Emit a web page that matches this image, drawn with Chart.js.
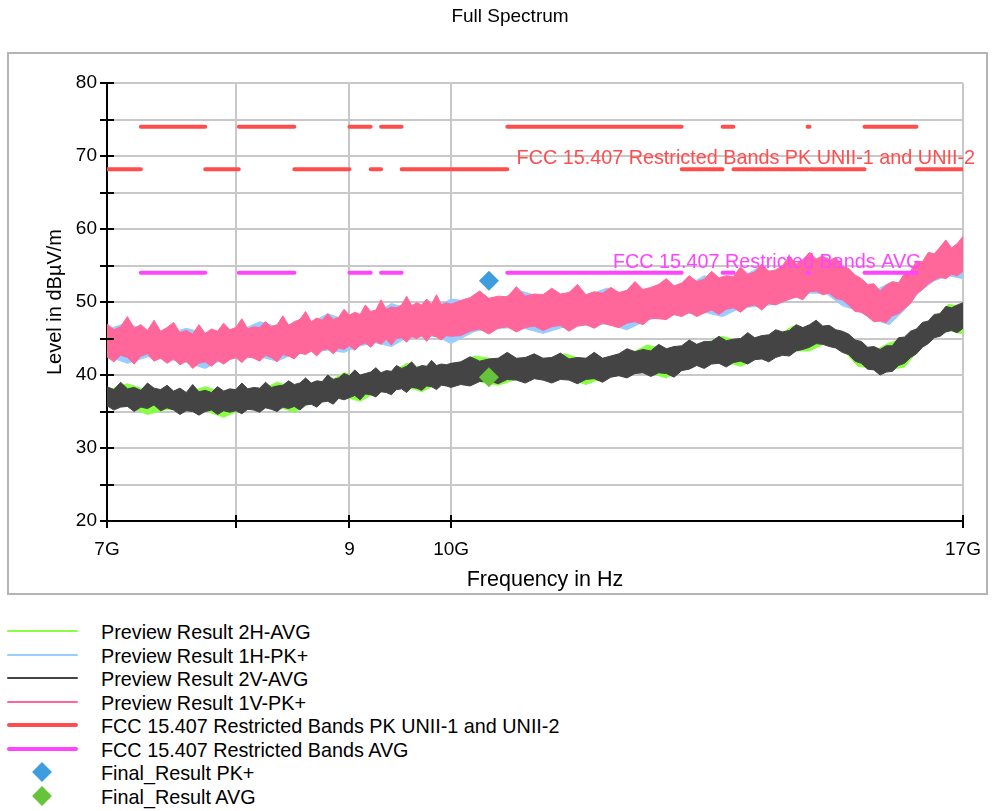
<!DOCTYPE html>
<html lang="en">
<head>
  <meta charset="UTF-8">
  <title>Full Spectrum</title>
  <script src="https://cdn.jsdelivr.net/npm/chart.js"></script>
  <style>
    body { margin: 0; background: #fff; font-family: "Liberation Sans", Arial, sans-serif; }
    #wrap { position: relative; width: 992px; height: 811px; overflow: hidden; }
    #chart { position: absolute; left: 0; top: 0; }
    .row { position: absolute; left: 0; width: 760px; height: 24px; }
    .row .sample { position: absolute; left: 7px; width: 71px; }
    .row .diamond { position: absolute; left: 35px; top: 5px; width: 14px; height: 14px; transform: rotate(45deg); }
    .row .label { position: absolute; left: 101px; top: 1px; line-height: 24px; font-size: 19.8px; color: #000; white-space: nowrap; }
  </style>
</head>
<body>
  <div id="wrap">
    <canvas id="chart" width="992" height="600"></canvas>
    <div id="legend"></div>
  </div>

  <script>
    // sweep grid (GHz) of the preview scans
    const freqs = [
      7.00, 7.05, 7.10, 7.15, 7.20, 7.25, 7.30, 7.35, 7.40, 7.45,
      7.50, 7.55, 7.60, 7.65, 7.70, 7.75, 7.80, 7.85, 7.90, 7.95,
      8.00, 8.05, 8.10, 8.15, 8.20, 8.25, 8.30, 8.35, 8.40, 8.45,
      8.50, 8.55, 8.60, 8.65, 8.70, 8.75, 8.80, 8.85, 8.90, 8.95,
      9.00, 9.05, 9.10, 9.15, 9.20, 9.25, 9.30, 9.35, 9.40, 9.45,
      9.50, 9.55, 9.60, 9.65, 9.70, 9.75, 9.80, 9.85, 9.90, 9.95,
      10.0,
      10.1, 10.2, 10.3, 10.4, 10.5, 10.6, 10.7, 10.8, 10.9, 11.0,
      11.1, 11.2, 11.3, 11.4, 11.5, 11.6, 11.7, 11.8, 11.9, 12.0,
      12.1, 12.2, 12.3, 12.4, 12.5, 12.6, 12.7, 12.8, 12.9, 13.0,
      13.1, 13.2, 13.3, 13.4, 13.5, 13.6, 13.7, 13.8, 13.9, 14.0,
      14.1, 14.2, 14.3, 14.4, 14.5, 14.6, 14.7, 14.8, 14.9, 15.0,
      15.1, 15.2, 15.3, 15.4, 15.5, 15.6, 15.7, 15.8, 15.9, 16.0,
      16.1, 16.2, 16.3, 16.4, 16.5, 16.6, 16.7, 16.8, 16.9, 17.0
    ];

    // Preview Result 1V-PK+ (max / min envelope, dBµV/m)
    const pk1vHi = [
      47.0, 46.2, 46.6, 48.0, 46.4, 46.9, 46.1, 47.5, 46.0, 46.5,
      47.2, 45.8, 46.1, 45.6, 46.9, 45.7, 46.3, 46.0, 47.1, 46.2,
      46.5, 47.7, 46.3, 46.6, 46.5, 47.3, 46.6, 46.9, 48.1, 46.8,
      47.3, 47.6, 48.7, 47.3, 47.8, 47.5, 48.4, 47.6, 47.9, 49.0,
      48.2, 48.6, 48.3, 49.6, 48.7, 48.9, 50.3, 49.0, 49.3, 49.2,
      49.6, 50.8, 49.5, 49.9, 49.6, 50.4, 49.7, 51.0, 49.6, 49.9,
      49.7,
      50.2, 50.6, 51.5, 50.5, 50.8, 50.7, 52.1, 50.8, 51.1, 51.0,
      51.9, 51.1, 51.3, 52.4, 51.0, 51.4, 51.2, 52.0, 51.3, 51.6,
      52.8, 51.7, 52.0, 52.4, 53.2, 52.2, 52.6, 53.6, 52.8, 53.1,
      54.2, 53.3, 53.6, 53.5, 54.8, 53.8, 54.1, 55.2, 54.2, 54.4,
      55.0, 56.3, 55.2, 55.8, 56.8, 55.9, 56.3, 55.7, 56.1, 54.9,
      54.6, 53.7, 53.2, 52.4, 52.5, 51.5, 52.3, 52.8, 52.6, 53.9,
      54.2, 55.6, 55.5, 56.8, 56.6, 57.5, 58.5, 57.4, 58.0, 59.0
    ];
    const pk1vLo = [
      42.5, 41.8, 42.7, 42.4, 41.5, 42.6, 42.9, 41.9, 42.3, 41.6,
      42.2, 41.4, 41.9, 40.9, 41.6, 41.8, 41.2, 42.0, 41.5, 42.1,
      42.4, 41.7, 42.5, 42.3, 41.9, 42.7, 42.4, 41.8, 42.8, 42.6,
      42.2, 43.0, 42.8, 43.3, 42.6, 43.4, 43.6, 42.9, 43.7, 43.5,
      44.0, 43.4, 44.1, 44.4, 43.8, 44.6, 44.2, 44.9, 44.1, 45.0,
      45.1, 44.5, 45.3, 45.0, 45.4, 44.6, 45.5, 45.2, 44.8, 45.4,
      45.3,
      45.4, 46.0, 46.3, 45.6, 46.4, 46.6, 45.9, 46.5, 46.7, 46.1,
      46.6, 46.8, 46.0, 46.7, 46.9, 46.4, 47.1, 46.8, 46.5, 47.1,
      47.3, 46.9, 47.8, 47.7, 47.6, 48.3, 48.0, 48.6, 48.0, 48.5,
      48.9, 48.3, 49.0, 49.2, 48.6, 49.4, 49.6, 48.9, 49.8, 49.6,
      50.0, 50.4, 50.7, 50.3, 51.4, 51.5, 51.0, 51.2, 50.5, 50.3,
      49.6, 48.7, 48.6, 48.0, 47.3, 47.4, 47.2, 48.1, 48.4, 49.1,
      49.8, 51.1, 51.7, 52.5, 53.0, 53.4, 53.2, 53.8, 53.6, 54.2
    ];

    // Preview Result 2V-AVG
    const avg2vHi = [
      38.4, 38.0, 39.0, 38.1, 38.3, 37.9, 38.9, 38.2, 38.0, 38.6,
      37.8, 38.2, 37.6, 38.7, 37.7, 37.9, 37.6, 38.4, 37.8, 38.1,
      38.0, 38.9, 38.1, 38.3, 38.2, 39.0, 38.3, 38.5, 38.6, 39.2,
      38.7, 38.9, 39.6, 38.9, 39.2, 39.1, 40.0, 39.4, 39.6, 40.2,
      39.9, 40.7, 40.0, 40.2, 40.4, 41.0, 40.3, 40.6, 40.5, 41.3,
      40.9, 41.2, 41.8, 41.0, 41.3, 41.2, 42.0, 41.3, 41.5, 41.4,
      41.6,
      41.8, 42.5, 41.9, 42.2, 42.3, 43.1, 42.3, 42.4, 42.9, 42.3,
      42.4, 43.0, 42.2, 42.4, 42.3, 43.1, 42.3, 42.6, 42.9, 43.6,
      43.2, 43.5, 43.3, 44.2, 43.6, 43.9, 44.0, 44.8, 44.2, 44.6,
      44.6, 45.3, 44.7, 44.9, 45.0, 45.8, 45.1, 45.4, 45.5, 46.2,
      45.9, 46.1, 46.9, 46.5, 46.9, 47.5, 46.7, 46.8, 46.2, 46.0,
      45.6, 44.8, 44.6, 43.8, 43.9, 43.5, 44.0, 44.0, 45.1, 45.2,
      46.0, 46.3, 47.2, 47.4, 48.3, 48.4, 49.4, 49.2, 49.6, 49.9
    ];
    const avg2vLo = [
      35.8, 35.2, 35.6, 35.7, 35.0, 35.6, 35.4, 35.9, 35.1, 35.5,
      35.2, 34.6, 35.1, 35.0, 34.5, 35.0, 35.2, 34.6, 35.1, 34.9,
      35.1, 34.7, 35.3, 35.2, 34.9, 35.5, 35.3, 35.0, 35.6, 35.4,
      35.7, 35.2, 35.9, 36.0, 35.6, 36.3, 36.4, 36.0, 36.8, 36.6,
      36.9, 37.2, 36.6, 37.4, 37.3, 37.0, 37.7, 37.6, 37.3, 38.0,
      38.1, 37.6, 38.3, 38.2, 37.9, 38.5, 38.4, 38.0, 38.6, 38.5,
      38.3,
      38.7, 38.5, 39.1, 39.2, 38.8, 39.4, 39.3, 38.9, 39.5, 39.3,
      38.9, 39.4, 39.3, 38.8, 39.4, 39.5, 39.0, 39.7, 39.9, 39.6,
      40.2, 40.3, 39.8, 40.3, 40.2, 39.7, 40.6, 40.8, 41.3, 40.9,
      41.5, 41.6, 41.1, 41.7, 41.9, 41.5, 42.1, 42.2, 41.8, 42.4,
      42.7, 42.6, 43.3, 43.5, 43.8, 44.3, 44.2, 43.9, 43.7, 43.1,
      42.8, 41.9, 41.6, 40.8, 40.7, 40.0, 40.4, 40.5, 41.3, 41.6,
      42.4, 42.9, 43.8, 44.3, 45.1, 45.3, 45.9, 46.1, 45.8, 46.4
    ];

    // horizontal-polarisation scans, coarser grid (GHz)
    const freqsH = [
      7.00, 7.15, 7.30, 7.45, 7.60, 7.75, 7.90, 8.05, 8.20, 8.35,
      8.50, 8.65, 8.80, 8.95, 9.10, 9.25, 9.40, 9.55, 9.70, 9.85,
      10.0,
      10.25, 10.50, 10.75, 11.00, 11.25, 11.50, 11.75, 12.00, 12.25, 12.50,
      12.75, 13.00, 13.25, 13.50, 13.75, 14.00, 14.25, 14.50, 14.75, 15.00,
      15.25, 15.50, 15.75, 16.00, 16.25, 16.50, 16.75, 17.00
    ];
    // Preview Result 1H-PK+
    const pk1hHi = [
      46.2, 47.2, 45.8, 45.6, 46.4, 45.7, 45.9, 46.2, 47.3, 46.6,
      47.0, 47.2, 48.4, 47.6, 47.9, 48.4, 49.8, 49.1, 49.3, 49.4,
      50.4,
      50.0, 50.4, 51.5, 50.6, 50.7, 50.8, 51.9, 50.9, 51.2, 51.6,
      52.1, 53.6, 53.0, 53.3, 54.7, 54.0, 54.8, 55.5, 56.2, 54.6,
      52.8, 51.5, 52.6, 52.6, 54.6, 56.1, 57.0, 58.3
    ];
    const pk1hLo = [
      42.6, 41.6, 42.5, 42.2, 41.7, 40.9, 42.2, 42.3, 42.5, 41.9,
      42.9, 43.2, 43.4, 43.1, 44.0, 44.4, 43.9, 45.1, 45.2, 45.3,
      44.3,
      46.0, 46.4, 46.5, 45.7, 46.6, 46.8, 47.0, 46.2, 47.5, 48.1,
      48.4, 48.6, 48.0, 49.2, 49.4, 49.7, 50.5, 51.2, 51.2, 49.5,
      48.8, 47.6, 46.9, 48.9, 51.4, 52.9, 53.6, 53.2
    ];
    // Preview Result 2H-AVG
    const avg2hHi = [
      37.9, 38.8, 37.9, 37.7, 37.5, 38.4, 37.6, 37.7, 37.9, 39.0,
      38.3, 38.7, 39.0, 40.3, 39.7, 40.0, 40.3, 41.6, 41.0, 41.1,
      41.2,
      42.6, 42.1, 42.1, 42.1, 42.9, 42.0, 42.1, 42.7, 44.1, 43.5,
      43.9, 44.3, 45.3, 44.5, 44.9, 45.2, 46.7, 46.3, 46.1, 45.5,
      44.1, 43.3, 44.4, 45.0, 46.1, 47.7, 49.7, 49.3
    ];
    const avg2hLo = [
      35.8, 35.7, 34.6, 35.3, 35.2, 35.1, 34.2, 35.3, 35.5, 35.7,
      34.9, 36.2, 36.5, 37.0, 36.4, 37.6, 38.0, 38.4, 37.7, 38.7,
      38.7,
      39.2, 38.6, 39.6, 39.6, 39.6, 38.7, 39.8, 40.3, 40.4, 39.6,
      41.0, 41.6, 41.9, 41.2, 42.3, 42.6, 43.3, 43.3, 44.4, 43.5,
      41.2, 40.9, 40.7, 41.1, 43.6, 45.2, 46.1, 45.6
    ];

    // FCC 15.407 restricted bands (GHz) and limits (dBµV/m)
    const bandStart = [7.25, 8.025, 9.0, 9.3, 10.6, 13.25, 14.47, 15.35];
    const bandStop  = [7.75, 8.5,   9.2, 9.5, 12.7, 13.4,  14.5,  16.2];
    const pkLimitIn = 74;
    const pkLimitOut = 68.2;
    const avgLimit = 54;

    // final measurements
    const finalFreq = [10.4];
    const finalPk = [52.9];
    const finalAvg = [39.7];

    const xTickValues = [7, 8, 9, 10, 17];
    const xTickLabels = ['7G', '', '9', '10G', '17G'];

    const FONT = '"Liberation Sans", Arial, sans-serif';
    const C = {
      pink: '#ff6699', blue: '#99ccff', dark: '#444444', green: '#88ff44',
      red: '#ff4d4d', magenta: '#ff44ff', dBlue: '#3d9de0', dGreen: '#66c43a'
    };

    const pts = (xs, ys) => xs.map((x, i) => ({ x: x, y: ys[i] }));

    // limit line: levelIn inside each band, levelOut between them (null = none)
    function limitPoints(levelIn, levelOut) {
      const out = [];
      let f = 7;
      for (let i = 0; i < bandStart.length; i++) {
        if (levelOut !== null) out.push({ x: f, y: levelOut }, { x: bandStart[i], y: levelOut });
        out.push({ x: bandStart[i], y: null });
        out.push({ x: bandStart[i], y: levelIn }, { x: bandStop[i], y: levelIn }, { x: bandStop[i], y: null });
        f = bandStop[i];
      }
      if (levelOut !== null) out.push({ x: f, y: levelOut }, { x: 17, y: levelOut });
      return out;
    }

    // filled max/min envelope of one scan
    function band(hi, lo, xs, color, order) {
      const common = { borderColor: color, backgroundColor: color, borderWidth: 1, pointRadius: 0 };
      return [
        Object.assign({ data: pts(xs, hi), fill: '+1', order: order }, common),
        Object.assign({ data: pts(xs, lo), fill: false, order: order + 1 }, common)
      ];
    }

    const decor = {
      id: 'decor',
      beforeDraw(chart) {
        const c = chart.ctx;
        c.save();
        c.fillStyle = '#fff';
        c.fillRect(0, 0, chart.width, chart.height);
        c.strokeStyle = '#b4b4b4';
        c.lineWidth = 2;
        c.strokeRect(8, 53, 979, 541);
        c.fillStyle = '#000';
        c.font = '19px ' + FONT;
        c.textAlign = 'center';
        c.textBaseline = 'middle';
        c.fillText('Full Spectrum', 510, 17);
        c.restore();
      },
      afterDatasetsDraw(chart) {
        const c = chart.ctx, x = chart.scales.x, y = chart.scales.y;
        c.save();
        c.font = '19.8px ' + FONT;
        c.textAlign = 'right';
        c.textBaseline = 'middle';
        c.fillStyle = C.red;
        c.fillText('FCC 15.407 Restricted Bands PK UNII-1 and UNII-2', x.right + 12, y.getPixelForValue(pkLimitOut) - 11);
        c.fillStyle = C.magenta;
        c.fillText('FCC 15.407 Restricted Bands AVG', x.getPixelForValue(bandStop[bandStop.length - 1]) + 5, y.getPixelForValue(avgLimit) - 10);
        c.restore();
      },
      afterDraw(chart) {
        const c = chart.ctx, x = chart.scales.x, y = chart.scales.y;
        c.save();
        c.strokeStyle = '#000';
        c.lineWidth = 2;
        c.beginPath();
        for (let v = 20; v <= 80; v += 5) {
          const py = Math.round(y.getPixelForValue(v));
          c.moveTo(x.left - 7, py);
          c.lineTo(x.left + 7, py);
        }
        xTickValues.forEach(v => {
          const px = Math.round(x.getPixelForValue(v));
          c.moveTo(px, y.bottom - 6);
          c.lineTo(px, y.bottom + 7);
        });
        c.stroke();

        c.fillStyle = '#000';
        c.textAlign = 'center';
        c.textBaseline = 'middle';
        c.font = '21.5px ' + FONT;
        c.fillText('Frequency in Hz', 545, 580);
        c.font = '20px ' + FONT;
        c.translate(55, (y.top + y.bottom) / 2);
        c.rotate(-Math.PI / 2);
        c.fillText('Level in dBµV/m', 0, 0);
        c.restore();
      }
    };

    new Chart(document.getElementById('chart'), {
      type: 'line',
      data: {
        datasets: [
          { data: pts(finalFreq, finalPk), showLine: false, pointStyle: 'rectRot', pointRadius: 10, pointBackgroundColor: C.dBlue, pointBorderWidth: 0, order: 0 },
          { data: pts(finalFreq, finalAvg), showLine: false, pointStyle: 'rectRot', pointRadius: 10, pointBackgroundColor: C.dGreen, pointBorderWidth: 0, order: 1 },
          { data: limitPoints(pkLimitIn, pkLimitOut), borderColor: C.red, borderWidth: 4, borderCapStyle: 'round', pointRadius: 0, fill: false, order: 2 },
          { data: limitPoints(avgLimit, null), borderColor: C.magenta, borderWidth: 4, borderCapStyle: 'round', pointRadius: 0, fill: false, order: 3 },
          ...band(pk1vHi, pk1vLo, freqs, C.pink, 4),
          ...band(pk1hHi, pk1hLo, freqsH, C.blue, 6),
          ...band(avg2vHi, avg2vLo, freqs, C.dark, 8),
          ...band(avg2hHi, avg2hLo, freqsH, C.green, 10)
        ]
      },
      options: {
        responsive: false,
        animation: false,
        devicePixelRatio: 1,
        events: [],
        layout: { padding: { top: 83, right: 29, bottom: 0, left: 0 } },
        plugins: { legend: { display: false }, tooltip: { enabled: false } },
        scales: {
          x: {
            type: 'logarithmic',
            min: 7,
            max: 17,
            afterBuildTicks: s => { s.ticks = xTickValues.map(v => ({ value: v })); },
            afterFit: s => { s.height = 79; s.paddingLeft = 0; s.paddingRight = 0; },
            ticks: {
              autoSkip: false, maxRotation: 0, padding: 17, color: '#000',
              font: { size: 19, family: FONT },
              callback: (v, i) => xTickLabels[i]
            },
            grid: { color: '#c8c8c8', lineWidth: 2, drawTicks: false },
            border: { color: '#000', width: 2 }
          },
          y: {
            min: 20,
            max: 80,
            afterFit: s => { s.width = 107; },
            ticks: {
              stepSize: 5, padding: 10, color: '#000',
              font: { size: 19, family: FONT },
              callback: v => (v % 10 === 0 ? v : '')
            },
            grid: { color: '#c8c8c8', lineWidth: 2, drawTicks: false },
            border: { color: '#000', width: 2 }
          }
        }
      },
      plugins: [decor]
    });

    // legend under the chart
    const legendNames = [
      'Preview Result 2H-AVG',
      'Preview Result 1H-PK+',
      'Preview Result 2V-AVG',
      'Preview Result 1V-PK+',
      'FCC 15.407 Restricted Bands PK UNII-1 and UNII-2',
      'FCC 15.407 Restricted Bands AVG',
      'Final_Result PK+',
      'Final_Result AVG'
    ];
    const legendMarks = [
      { color: C.green, width: 2 },
      { color: C.blue, width: 2 },
      { color: C.dark, width: 2 },
      { color: C.pink, width: 2 },
      { color: C.red, width: 4 },
      { color: C.magenta, width: 4 },
      { color: C.dBlue, diamond: true },
      { color: C.dGreen, diamond: true }
    ];
    const legend = document.getElementById('legend');
    legendNames.forEach((name, i) => {
      const row = document.createElement('div');
      row.className = 'row';
      row.style.top = (619 + i * 23.5) + 'px';
      const m = legendMarks[i];
      const mark = document.createElement('div');
      if (m.diamond) {
        mark.className = 'diamond';
      } else {
        mark.className = 'sample';
        mark.style.height = m.width + 'px';
        mark.style.top = (12 - m.width / 2) + 'px';
        mark.style.borderRadius = (m.width / 2) + 'px';
      }
      mark.style.background = m.color;
      const label = document.createElement('div');
      label.className = 'label';
      label.textContent = name;
      row.appendChild(mark);
      row.appendChild(label);
      legend.appendChild(row);
    });
  </script>
</body>
</html>
